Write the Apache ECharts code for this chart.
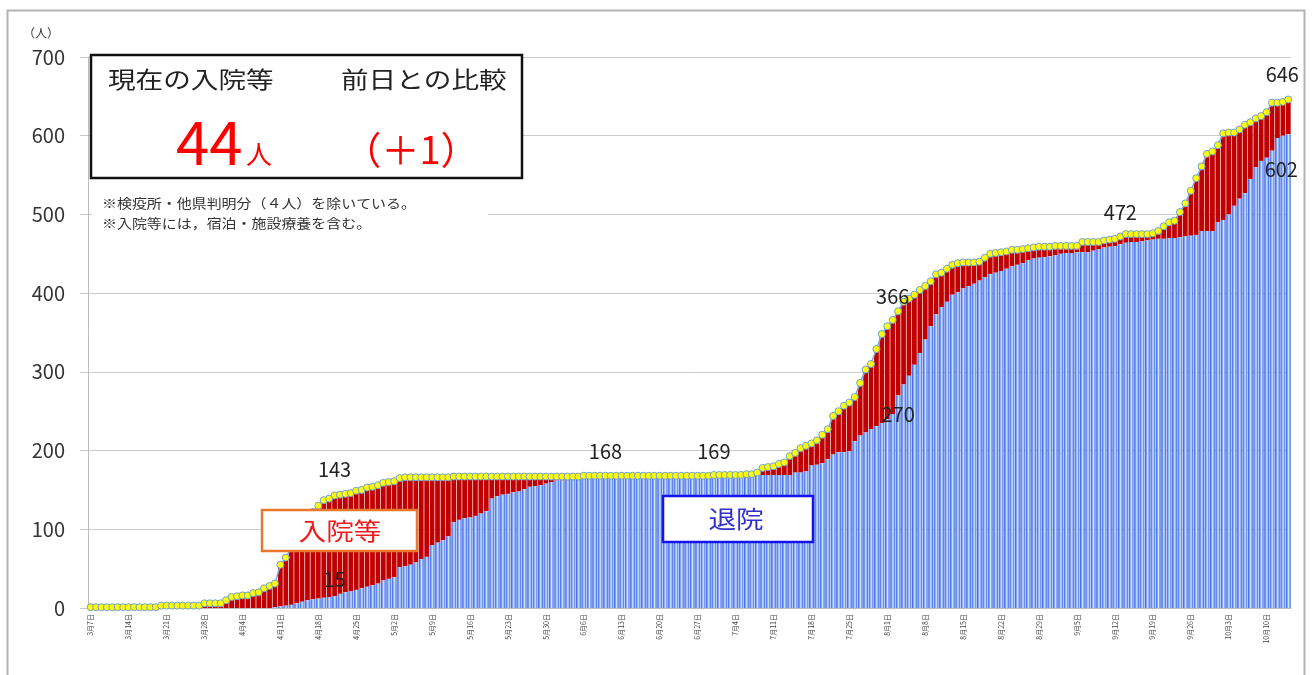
<!DOCTYPE html>
<html>
<head>
<meta charset="utf-8">
<script src="https://cdn.jsdelivr.net/npm/echarts@6/dist/echarts.min.js"></script>
<style>
html,body{margin:0;padding:0;background:#fff;}
#chart{width:1313px;height:675px;}
</style>
</head>
<body>
<div id="chart"></div>
<script>
// ---- categories: each day from 3月7日 to 10月14日 ----
const monthRanges = [[3,7,31],[4,1,30],[5,1,31],[6,1,30],[7,1,31],[8,1,31],[9,1,30],[10,1,14]];
const categories = [];
monthRanges.forEach(function(r){ for (let d = r[1]; d <= r[2]; d++) categories.push(r[0] + '月' + d + '日'); });

// ---- cumulative total (陽性者累計) ----
const total = [
  1,1,1,1,1,1,1,1,1,1,1,1,1,
  3,3,3,3,3,3,3,3,
  6,6,6,6,
  10,14,15,16,16,19,20,25,28,31,
  55,64,76,88,100,112,122,130,137,139,
  143,144,145,146,149,150,153,154,156,159,
  160,161,165,166,166,166,166,166,166,166,166,166,
  167,167,167,167,167,167,167,167,167,167,167,167,167,167,167,167,167,167,167,167,167,167,167,167,
  168,168,168,168,168,168,168,168,168,168,168,168,168,168,168,168,168,168,168,168,168,168,168,168,
  169,169,169,169,169,169,
  170,170,172,178,179,180,183,185,193,
  197,203,206,209,213,220,227,244,250,257,
  261,268,286,303,310,329,348,358,366,377,
  389,393,398,404,409,415,424,426,431,436,
  438,439,439,439,440,445,450,451,452,453,
  455,455,456,457,458,459,459,459,460,460,
  460,460,460,465,465,465,465,467,468,469,
  472,475,475,475,475,475,476,479,485,490,
  492,503,514,530,546,561,577,580,588,603,
  604,604,608,614,617,622,625,630,642,642,
  643,646
];

// ---- discharged (退院) ----
const discharged = [
  0,0,0,0,0,0,0,0,0,0,0,0,0,0,0,0,0,0,0,0,0,0,0,0,0,0,0,0,0,0,0,0,0,0,
  1,2,3,4,6,8,10,11,12,13,14,
  15,18,20,21,23,25,27,29,31,35,
  37,39,52,53,55,58,62,65,80,83,
  86,91,109,112,114,115,117,120,123,139,
  142,144,145,147,148,151,154,155,156,158,
  160,162,162,165,166,167,
  168,168,168,168,168,168,168,168,168,168,168,168,168,168,168,168,168,168,168,168,168,168,168,168,
  169,169,169,169,169,169,169,169,169,169,169,169,169,169,169,
  172,172,174,181,182,184,189,195,198,198,
  199,212,219,223,227,231,235,240,246,270,
  284,295,309,324,341,358,373,382,389,398,
  401,406,409,412,416,420,424,426,428,431,
  434,436,438,442,444,445,446,447,448,450,
  451,451,452,452,452,454,456,458,459,460,
  462,464,465,465,466,467,468,469,469,470,
  470,471,472,473,474,479,479,479,490,493,
  500,511,520,527,545,560,568,572,581,597,
  600,602
];

// 入院等 = 累計 − 退院
const inHospital = total.map(function(t, i){ return t - discharged[i]; });

// y-axis ticks
const yTicks = [0,100,200,300,400,500,600,700];

// annotated indices
const totalLabels = [45, 95, 115, 148, 190, 221];
const dischargedLabels = [45, 149, 221];

const FONT = "'Noto Sans CJK JP','Noto Sans',sans-serif";

const labelOffsetTotal = {45:[0,-7], 95:[0,-5], 115:[0,-5], 148:[0,-4], 190:[0,-5], 221:[-6,-6]};
const labelOffsetDis = {45:[0,-2], 149:[0,34], 221:[-7,50]};

const totalData = total.map(function(v, i){
  if (totalLabels.indexOf(i) >= 0) {
    return {value: v, label: {show: true, position: 'top', offset: labelOffsetTotal[i],
      fontSize: 20, color: '#222', fontFamily: FONT}};
  }
  return v;
});
const disData = discharged.map(function(v, i){
  if (dischargedLabels.indexOf(i) >= 0) {
    return {value: v, label: {show: true, position: 'top', offset: labelOffsetDis[i],
      fontSize: 20, color: '#222', fontFamily: FONT}};
  }
  return v;
});

const chart = echarts.init(document.getElementById('chart'), null, {renderer: 'canvas'});

const blueFill = new echarts.graphic.LinearGradient(0, 0, 1, 0, [
  {offset: 0, color: '#3455e0'},
  {offset: 0.3, color: '#7d9cf0'},
  {offset: 0.55, color: '#c4ecff'},
  {offset: 0.8, color: '#7d9cf0'},
  {offset: 1, color: '#3455e0'}
]);

const option = {
  animation: false,
  backgroundColor: '#ffffff',
  textStyle: {fontFamily: FONT},
  grid: {left: 88, right: 22, top: 57, bottom: 67, containLabel: false},
  xAxis: {
    type: 'category',
    data: categories,
    boundaryGap: true,
    axisLine: {show: true, lineStyle: {color: '#bdbdbd', width: 1}},
    axisTick: {show: false},
    axisLabel: {
      interval: function(index){ return index % 7 === 0; },
      rotate: 90, fontSize: 7, color: '#444', margin: 6, fontFamily: FONT
    },
    splitLine: {show: false}
  },
  yAxis: {
    type: 'value',
    min: yTicks[0], max: yTicks[yTicks.length - 1], interval: 100,
    axisLine: {show: true, lineStyle: {color: '#bdbdbd', width: 1}},
    axisTick: {show: true, length: 8, lineStyle: {color: '#c8c8c8'}},
    axisLabel: {fontSize: 20, color: '#333', margin: 23, fontFamily: FONT},
    splitLine: {show: true, lineStyle: {color: '#cbcbcb', width: 1}}
  },
  series: [
    {
      name: '退院', type: 'bar', stack: 'cum', data: disData,
      barCategoryGap: '12%',
      itemStyle: {color: blueFill},
      z: 4
    },
    {
      name: '入院等', type: 'bar', stack: 'cum', data: inHospital,
      barCategoryGap: '12%',
      itemStyle: {color: '#c00000'},
      z: 2
    },
    {
      name: '累計', type: 'line', data: totalData,
      symbol: 'circle', symbolSize: 7, showSymbol: true, showAllSymbol: true,
      itemStyle: {color: '#ffff00', borderColor: '#6f9fd8', borderWidth: 1},
      lineStyle: {color: '#7fa9dc', width: 1.5},
      z: 5
    }
  ],
  graphic: [
    // outer frame
    {type: 'rect', left: 5, top: 8, z: 0, silent: true,
      shape: {x: 0, y: 0, width: 1297, height: 700},
      style: {fill: 'none', stroke: '#b3b3b3', lineWidth: 2}},
    // （人）
    {type: 'text', x: 41, y: 33, z: 10,
      style: {text: '（人）', font: '12px ' + FONT, fill: '#333', textAlign: 'center', textVerticalAlign: 'middle'}},
    // summary box
    {type: 'rect', z: 10, shape: {x: 91, y: 55, width: 431, height: 123},
      style: {fill: '#ffffff', stroke: '#111', lineWidth: 2.5}},
    {type: 'text', x: 108, y: 79, z: 11, scaleX: 1.2,
      style: {text: '現在の入院等', font: '23px ' + FONT, fill: '#222', textAlign: 'left', textVerticalAlign: 'middle'}},
    {type: 'text', x: 341, y: 79, z: 11, scaleX: 1.2,
      style: {text: '前日との比較', font: '23px ' + FONT, fill: '#222', textAlign: 'left', textVerticalAlign: 'middle'}},
    {type: 'text', x: 176, y: 142, z: 11,
      style: {text: '44', font: '60px ' + FONT, fill: '#ff0000', textAlign: 'left', textVerticalAlign: 'middle'}},
    {type: 'text', x: 246, y: 154, z: 11,
      style: {text: '人', font: '26px ' + FONT, fill: '#ff0000', textAlign: 'left', textVerticalAlign: 'middle'}},
    {type: 'text', x: 411, y: 150, z: 11,
      style: {text: '（＋1）', font: '38px ' + FONT, fill: '#ff0000', textAlign: 'center', textVerticalAlign: 'middle'}},
    // notes
    {type: 'rect', z: 9, shape: {x: 92, y: 190, width: 396, height: 44},
      style: {fill: '#ffffff', stroke: 'none'}},
    {type: 'text', x: 102, y: 203, z: 11, scaleX: 1.15,
      style: {text: '※検疫所・他県判明分（４人）を除いている。', font: '13px ' + FONT, fill: '#333', textAlign: 'left', textVerticalAlign: 'middle'}},
    {type: 'text', x: 102, y: 223, z: 11, scaleX: 1.15,
      style: {text: '※入院等には，宿泊・施設療養を含む。', font: '13px ' + FONT, fill: '#333', textAlign: 'left', textVerticalAlign: 'middle'}},
    // 入院等 legend box
    {type: 'rect', z: 10, shape: {x: 262, y: 510, width: 155, height: 41},
      style: {fill: '#ffffff', stroke: '#e8782a', lineWidth: 2.5}},
    {type: 'text', x: 340, y: 531, z: 11, scaleX: 1.15,
      style: {text: '入院等', font: '24px ' + FONT, fill: '#ee1c1c', textAlign: 'center', textVerticalAlign: 'middle'}},
    // 退院 legend box
    {type: 'rect', z: 10, shape: {x: 663, y: 496, width: 150, height: 46},
      style: {fill: '#ffffff', stroke: '#1414f0', lineWidth: 2.5}},
    {type: 'text', x: 736, y: 519, z: 11, scaleX: 1.15,
      style: {text: '退院', font: '24px ' + FONT, fill: '#3030cc', textAlign: 'center', textVerticalAlign: 'middle'}}
  ]
};

chart.setOption(option);
</script>
</body>
</html>
